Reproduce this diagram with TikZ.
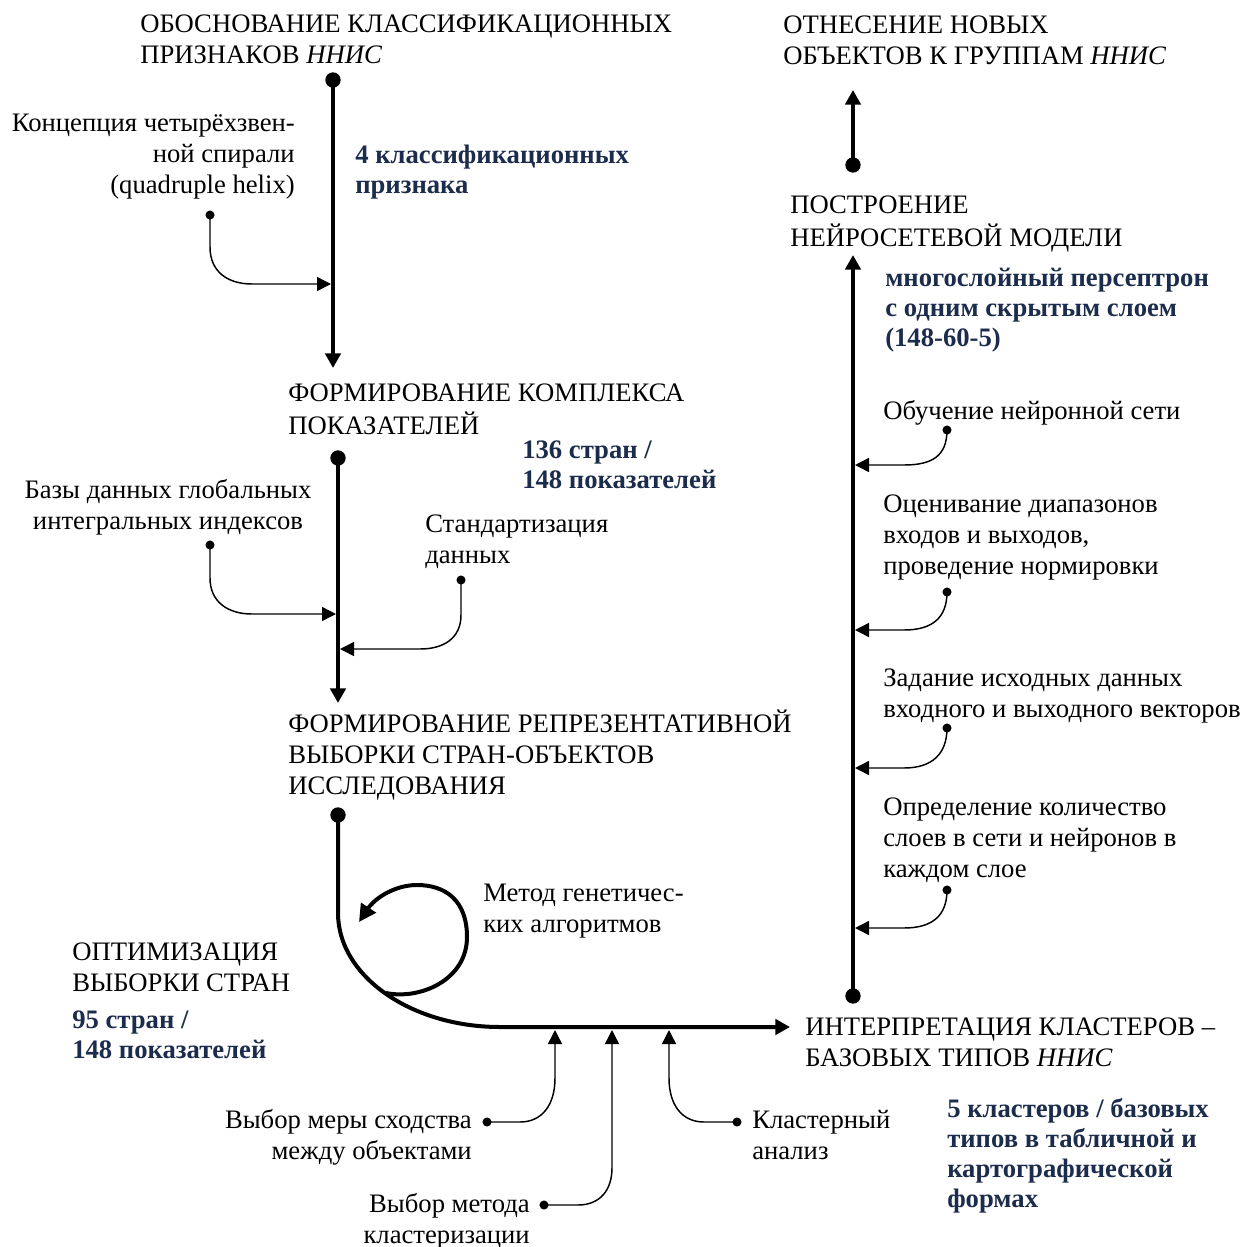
\documentclass[tikz,border=0pt]{standalone}
\usepackage{fontspec}
\setmainfont{Liberation Serif}
\usetikzlibrary{arrows.meta}
\definecolor{navy}{HTML}{1C2C4C}
\begin{document}
\begin{tikzpicture}[x=0.75pt,y=-0.75pt,
  spine/.style={line width=3pt,-{Triangle[length=11pt,width=11.5pt]}},
  feed/.style={line width=1.1pt,-{Triangle[length=10.5pt,width=10.5pt]}},
  loopline/.style={line width=3pt,-{Triangle[length=13pt,width=13pt]}},
  bigdot/.style={circle,fill=black,inner sep=0pt,minimum size=11.5pt},
  smalldot/.style={circle,fill=black,inner sep=0pt,minimum size=6.8pt},
  base/.style={inner sep=0pt,anchor=north west,align=left},
  txt/.style={base,yshift=16.275pt,font=\fontsize{20}{23.25}\selectfont},
  txtr/.style={txt,anchor=north east,align=right},
  txtc/.style={txt,anchor=north,align=center},
  blue/.style={base,yshift=15.75pt,font=\fontsize{20}{22.5}\selectfont\bfseries,text=navy}
]
\useasboundingbox (0,0) rectangle (1258,1247);

% ---- texts ----
\node[txt] (t1) at (140,32) {\strut ОБОСНОВАНИЕ КЛАССИФИКАЦИОННЫХ\\ПРИЗНАКОВ \textit{ННИС}};
\node[txt] (t2) at (783,33) {\strut ОТНЕСЕНИЕ НОВЫХ\\ОБЪЕКТОВ К ГРУППАМ \textit{ННИС}};
\node[txtr] (l1) at (295,131) {\strut Концепция четырёхзвен-\\ной спирали\\(quadruple helix)};
\node[blue] (b1) at (355,163) {\strut 4 классификационных\\признака};
\node[txt] (t3) at (288,401) {\strut ФОРМИРОВАНИЕ КОМПЛЕКСА\\ПОКАЗАТЕЛЕЙ};
\node[blue] (b2) at (522,458) {\strut 136 стран /\\148 показателей};
\node[txtc] (l2) at (168,498) {\strut Базы данных глобальных\\интегральных индексов};
\node[txt] (l3) at (425,532) {\strut Стандартизация\\данных};
\node[txt] (t4) at (288,731) {\strut ФОРМИРОВАНИЕ РЕПРЕЗЕНТАТИВНОЙ\\ВЫБОРКИ СТРАН-ОБЪЕКТОВ\\ИССЛЕДОВАНИЯ};
\node[txt] (l4) at (483,901) {\strut Метод генетичес-\\ких алгоритмов};
\node[txt] (t5) at (72,960) {\strut ОПТИМИЗАЦИЯ\\ВЫБОРКИ СТРАН};
\node[blue] (b3) at (72,1028) {\strut 95 стран /\\148 показателей};
\node[txt] (t6) at (805,1035) {\strut ИНТЕРПРЕТАЦИЯ КЛАСТЕРОВ –\\БАЗОВЫХ ТИПОВ \textit{ННИС}};
\node[blue] (b4) at (947,1117) {\strut 5 кластеров / базовых\\типов в табличной и\\картографической\\формах};
\node[txtr] (l5) at (472,1128) {\strut Выбор меры сходства\\между объектами};
\node[txtr] (l6) at (530,1212) {\strut Выбор метода\\кластеризации};
\node[txt] (l7) at (752,1128) {\strut Кластерный\\анализ};
\node[txt] (t7) at (790,213) {\strut ПОСТРОЕНИЕ\\НЕЙРОСЕТЕВОЙ МОДЕЛИ};
\node[blue] (b5) at (885,286) {\strut многослойный персептрон\\с одним скрытым слоем\\(148-60-5)};
\node[txt] (r1t) at (883,419) {\strut Обучение нейронной сети};
\node[txt] (r2t) at (883,512) {\strut Оценивание диапазонов\\входов и выходов,\\проведение нормировки};
\node[txt] (r3t) at (883,686) {\strut Задание исходных данных\\входного и выходного векторов};
\node[txt] (r4t) at (883,815) {\strut Определение количество\\слоев в сети и нейронов в\\каждом слое};

% ---- spine 1 ----
\node[bigdot] (s1) at (333,80) {};
\coordinate (s1e) at (333,368);
\draw[spine] (s1.center) -- (s1e);
\node[smalldot] (i1) at (210,215) {};
\coordinate (i1e) at (331,284);
\draw[feed] (i1.center) -- (210,247) .. controls (210,272) and (228,284) .. (252,284) -- (i1e);

% ---- spine 2 ----
\node[bigdot] (s2) at (338,458) {};
\coordinate (s2e) at (338,703);
\draw[spine] (s2.center) -- (s2e);
\node[smalldot] (i2) at (210,545) {};
\coordinate (i2e) at (336,614);
\draw[feed] (i2.center) -- (210,578) .. controls (210,602) and (228,614) .. (252,614) -- (i2e);
\node[smalldot] (i3) at (461,580) {};
\coordinate (i3e) at (340,649);
\draw[feed] (i3.center) -- (461,615) .. controls (461,638) and (444,649) .. (420,649) -- (i3e);

% ---- bottom spine ----
\node[bigdot] (s3) at (338,815) {};
\coordinate (s3e) at (790,1027);
\draw[spine] (s3.center) -- (338,913) .. controls (338,976) and (411,1027) .. (500,1027) -- (s3e);
\coordinate (lp0) at (386,993);
\coordinate (lp1) at (359,922);
\draw[loopline] (lp0) .. controls (420,1000) and (467,980) .. (467,937)
  .. controls (467,900) and (445,885) .. (417,885)
  .. controls (395,885) and (375,898) .. (lp1);

\node[smalldot] (c1) at (487,1122) {};
\coordinate (c1e) at (555,1030);
\draw[feed] (c1.center) -- (520,1122) .. controls (542,1122) and (555,1105) .. (555,1078) -- (c1e);
\node[smalldot] (c2) at (544,1205) {};
\coordinate (c2e) at (612,1030);
\draw[feed] (c2.center) -- (578,1205) .. controls (600,1205) and (612,1190) .. (612,1168) -- (c2e);
\node[smalldot] (c3) at (737,1122) {};
\coordinate (c3e) at (669,1030);
\draw[feed] (c3.center) -- (704,1122) .. controls (682,1122) and (669,1105) .. (669,1078) -- (c3e);

% ---- right spine ----
\node[bigdot] (s4) at (853,996) {};
\coordinate (s4e) at (853,255);
\draw[spine] (s4.center) -- (s4e);
\node[bigdot] (s5) at (853,165) {};
\coordinate (s5e) at (853,90);
\draw[spine] (s5.center) -- (s5e);

\foreach \n/\dy/\ay in {1/430/465, 2/592/630, 3/728/768, 4/890/928}{
  \node[smalldot] (r\n) at (947,\dy) {};
  \coordinate (r\n e) at (855,\ay);
  \draw[feed] (r\n.center) .. controls (947,\dy+26) and (932,\ay) .. (904,\ay) -- (r\n e);
}
\end{tikzpicture}
\end{document}
